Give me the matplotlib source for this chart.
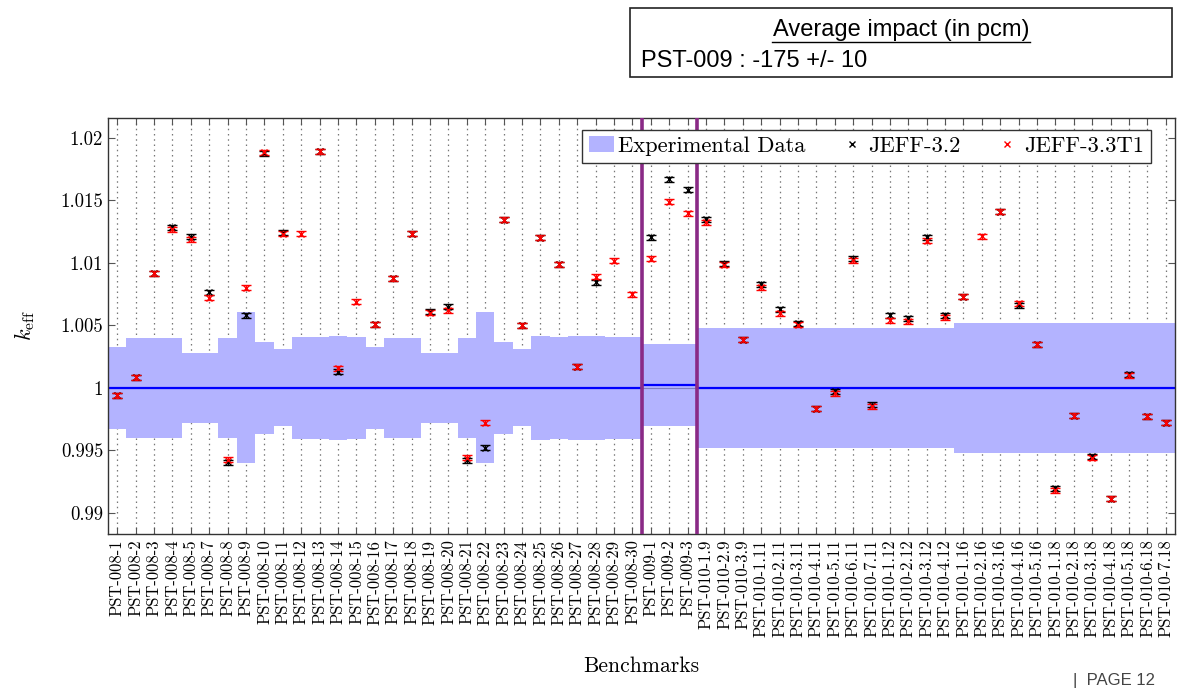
#!/usr/bin/env python3
"""k_eff of PST benchmarks: JEFF-3.2 vs JEFF-3.3T1 against experimental data."""

import matplotlib as mpl
import matplotlib.pyplot as plt
import numpy as np
from matplotlib.lines import Line2D
from matplotlib.patches import Patch, Rectangle

LABELS = (
    [f"PST-008-{n}" for n in [1, 2, 3, 4, 5, 7, 8, 9] + list(range(10, 31))]
    + ["PST-009-1", "PST-009-2", "PST-009-3"]
    + [
        "PST-010-1.9", "PST-010-2.9", "PST-010-3.9",
        "PST-010-1.11", "PST-010-2.11", "PST-010-3.11", "PST-010-4.11",
        "PST-010-5.11", "PST-010-6.11", "PST-010-7.11",
        "PST-010-1.12", "PST-010-2.12", "PST-010-3.12", "PST-010-4.12",
        "PST-010-1.16", "PST-010-2.16", "PST-010-3.16", "PST-010-4.16", "PST-010-5.16",
        "PST-010-1.18", "PST-010-2.18", "PST-010-3.18", "PST-010-4.18",
        "PST-010-5.18", "PST-010-6.18", "PST-010-7.18",
    ]
)

EXP_MEAN = [1.0] * 29 + [1.00024] * 3 + [1.0] * 26
EXP_UNC = [
    0.00327, 0.00398, 0.00398, 0.00398, 0.00281, 0.00281, 0.00398, 0.00605,
    0.00368, 0.00309, 0.00407, 0.00407, 0.00417, 0.00407, 0.00327, 0.00398,
    0.00398, 0.00281, 0.00281, 0.00398, 0.00605, 0.00368, 0.00309, 0.00417,
    0.00407, 0.00415, 0.00415, 0.00410, 0.00410,
    0.0033, 0.0033, 0.0033,
] + [0.00478] * 14 + [0.00518] * 12

nan = np.nan
JEFF32 = [
    0.99939, 1.00085, 1.00916, 1.01285, 1.0121, 1.00764, 0.99404, 1.00582,
    1.01878, 1.01240, nan, 1.01894, 1.00128, nan, 1.0051, 1.00876,
    1.01234, 1.00609, 1.00649, 0.99420, 0.99522, 1.01344, 1.00502, 1.01202,
    1.00988, 1.00168, 1.00844, nan, nan,
    1.01207, 1.01669, 1.01584,
    1.01349, 1.00994, 1.00387, 1.00828, 1.0063, 1.00518, 0.99834, 0.99973,
    1.01034, 0.99866, 1.0058, 1.00558, 1.01205, 1.0058, 1.00729, nan,
    1.0141, 1.0066, 1.0035, 0.99196, 0.99778, 0.99452, 0.99111, 1.0011,
    0.99773, 0.99722,
]
JEFF33 = [
    0.99939, 1.00085, 1.00916, 1.01269, 1.0119, 1.00721, 0.99426, 1.00801,
    1.01884, 1.01234, 1.01234, 1.01894, 1.00155, 1.00689, 1.0051, 1.00876,
    1.01234, 1.006, 1.00622, 0.99439, 0.99720, 1.01344, 1.00502, 1.01202,
    1.00988, 1.00168, 1.00889, 1.01018, 1.0075,
    1.01034, 1.01488, 1.01397,
    1.01325, 1.00986, 1.00387, 1.00804, 1.00596, 1.00505, 0.99834, 0.99955,
    1.0102, 0.99853, 1.00542, 1.00534, 1.01178, 1.00564, 1.00729, 1.01213,
    1.0141, 1.00678, 1.0035, 0.9918, 0.99778, 0.99442, 0.99111, 1.00099,
    0.99773, 0.99722,
]
STAT_UNC = 0.0002
SERIES_BOUNDS = [28.5, 31.5]

YTICKS = [0.99, 0.995, 1.0, 1.005, 1.01, 1.015, 1.02]
YTICKLABELS = ["0.99", "0.995", "1", "1.005", "1.01", "1.015", "1.02"]

BAND_COLOR = "#b3b3ff"
PURPLE = "#8a2a86"


def main() -> None:
    mpl.rcParams.update(
        {
            "font.family": "cmr10",
            "mathtext.fontset": "cm",
            "axes.unicode_minus": False,
            "axes.formatter.use_mathtext": True,
        }
    )

    n = len(LABELS)
    x = np.arange(n)
    mean = np.array(EXP_MEAN)
    unc = np.array(EXP_UNC)
    edges = np.arange(n + 1) - 0.5

    fig = plt.figure(figsize=(11.78, 6.94), dpi=100)
    ax = fig.add_axes([0.0917, 0.2305, 0.9058, 0.5995])

    lo = np.r_[mean - unc, (mean - unc)[-1]]
    hi = np.r_[mean + unc, (mean + unc)[-1]]
    ax.fill_between(edges, lo, hi, step="post", color=BAND_COLOR, lw=0, zorder=1)
    ax.axhline(1.0, color="#8080c0", lw=0.8, zorder=1.5)
    ax.step(edges, np.r_[mean, mean[-1]], where="post", color="#0000ff", lw=1.6, zorder=2)

    for xb in SERIES_BOUNDS:
        ax.axvline(xb, color=PURPLE, lw=2.6, zorder=5)

    for vals, color in [(JEFF32, "black"), (JEFF33, "red")]:
        ax.errorbar(
            x, vals, yerr=STAT_UNC, fmt="x", color=color, ms=5, mew=1.0,
            elinewidth=0.8, capsize=3.5, capthick=0.9, zorder=4,
        )

    ax.set_xlim(-0.5, n - 0.5)
    ax.set_ylim(0.9883, 1.0216)
    ax.set_xticks(x)
    ax.set_xticklabels(LABELS, rotation=90, fontsize=12)
    ax.set_yticks(YTICKS)
    ax.set_yticklabels(YTICKLABELS, fontsize=13.5)
    ax.tick_params(axis="both", direction="in", top=True, right=True, length=5, width=0.8, color="#555555")
    ax.tick_params(axis="x", pad=4)
    ax.grid(axis="x", linestyle=(0, (1.2, 3)), color="#777777", lw=0.9)
    ax.set_axisbelow(True)
    for sp in ax.spines.values():
        sp.set_linewidth(1.0)
        sp.set_color("#333333")

    ax.set_ylabel(r"$k_{\mathrm{eff}}$", fontsize=16, labelpad=17)
    ax.set_xlabel("Benchmarks", fontsize=15.5, labelpad=14)

    handles = [
        Patch(facecolor=BAND_COLOR, edgecolor="none", label="Experimental Data"),
        Line2D([], [], ls="none", marker="x", ms=4.5, mew=1.0, color="black", label="JEFF-3.2"),
        Line2D([], [], ls="none", marker="x", ms=4.5, mew=1.0, color="red", label="JEFF-3.3T1"),
    ]
    leg = ax.legend(
        handles=handles, ncol=3, loc="upper right", bbox_to_anchor=(0.977, 0.972),
        borderaxespad=0, fancybox=False, framealpha=1, edgecolor="#333333",
        fontsize=16.2, handlelength=1.1, handletextpad=0.2, columnspacing=1.5,
        borderpad=0.3,
    )
    leg.get_frame().set_linewidth(1.0)
    leg.set_zorder(10)

    # summary box above the plot
    fig.patches.append(
        Rectangle((630 / 1178, 1 - 77 / 694), 542 / 1178, 69 / 694, transform=fig.transFigure,
                  facecolor="white", edgecolor="#222222", lw=1.2)
    )
    fig.text(901 / 1178, 1 - 30 / 694, "Average impact (in pcm)", family="Liberation Sans",
             fontsize=17, ha="center", va="center")
    fig.add_artist(Line2D([772 / 1178, 1030 / 1178], [1 - 42 / 694] * 2, transform=fig.transFigure,
                          color="black", lw=1.0))
    fig.text(641 / 1178, 1 - 61 / 694, "PST-009 : -175 +/- 10", family="Liberation Sans",
             fontsize=17, ha="left", va="center")
    fig.text(1073 / 1178, 1 - 681 / 694, "|  PAGE 12", family="Liberation Sans",
             fontsize=12, ha="left", va="center", color="#444444")

    fig.savefig("out.png", dpi=100)


if __name__ == "__main__":
    main()
